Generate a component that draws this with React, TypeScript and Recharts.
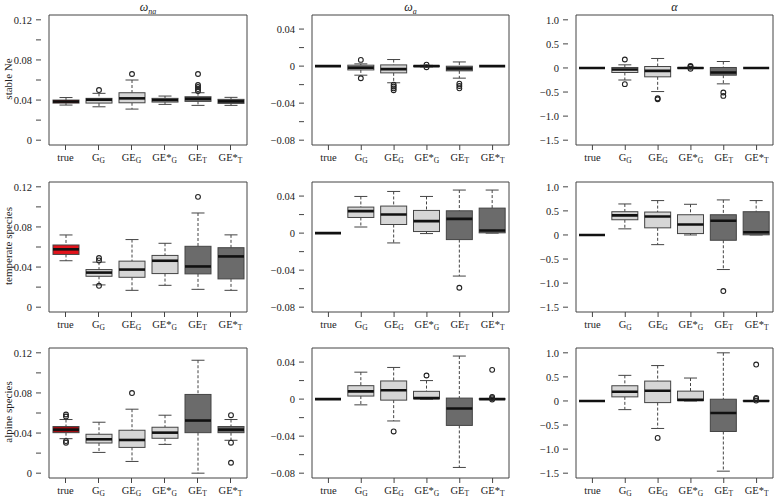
import React from 'react';
import { ComposedChart, Bar, XAxis, YAxis, ReferenceArea } from 'recharts';

const categories = ['true', 'G_G', 'GE_G', 'GE*_G', 'GE_T', 'GE*_T'];
const tickMain = ['true', 'G', 'GE', 'GE*', 'GE', 'GE*'];
const tickSub = ['', 'G', 'G', 'G', 'T', 'T'];

const rowTitles = ['stable Ne', 'temperate species', 'alpine species'];

// each group: [lower whisker, q1, median, q3, upper whisker]
const wnaStable = [
    [0.035, 0.037, 0.0385, 0.04, 0.0425],
    [0.0333, 0.037, 0.0403, 0.0417, 0.0467],
    [0.031, 0.0373, 0.0417, 0.0473, 0.06],
    [0.0357, 0.038, 0.04, 0.0417, 0.044],
    [0.0347, 0.0387, 0.0413, 0.0433, 0.0473],
    [0.0347, 0.0367, 0.0387, 0.0407, 0.0427]
];
const wnaStableOut = [[], [0.05], [0.066], [], [0.066, 0.055, 0.053, 0.051, 0.049], []];

const waStable = [
    [0, 0, 0, 0, 0],
    [-0.0098, -0.0041, -0.0016, 0.001, 0.0024],
    [-0.018, -0.0073, -0.0033, 0.0013, 0.0071],
    [-0.0008, -0.0003, 0, 0.0003, 0.0008],
    [-0.013, -0.0051, -0.0026, -0.0001, 0.0045],
    [0, 0, 0, 0, 0]
];
const waStableOut = [[], [0.0067, -0.0131], [-0.02, -0.022, -0.024, -0.026], [0.0015, -0.0012], [-0.019, -0.0215, -0.024], []];

const alStable = [
    [0, 0, 0, 0, 0],
    [-0.25, -0.094, -0.032, 0.01, 0.065],
    [-0.49, -0.184, -0.06, 0.03, 0.197],
    [-0.01, -0.004, 0, 0.004, 0.012],
    [-0.33, -0.15, -0.094, 0.01, 0.134],
    [0, 0, 0, 0, 0]
];
const alStableOut = [[], [0.176, -0.336], [-0.63, -0.65], [0.04, 0.025, -0.015], [-0.51, -0.58], []];

const wnaTemp = [
    [0.0463, 0.0526, 0.0577, 0.062, 0.072],
    [0.0222, 0.0308, 0.0345, 0.0375, 0.0449],
    [0.0168, 0.0298, 0.0375, 0.0459, 0.0674],
    [0.0218, 0.0335, 0.0463, 0.0516, 0.0637],
    [0.0178, 0.0332, 0.0406, 0.0607, 0.0939],
    [0.0168, 0.0282, 0.0506, 0.0593, 0.0721]
];
const wnaTempOut = [[], [0.049, 0.0466, 0.0213], [], [], [0.11], []];

const waTemp = [
    [0, 0, 0, 0, 0],
    [0.0066, 0.0169, 0.0237, 0.0281, 0.0396],
    [-0.0106, 0.0093, 0.0201, 0.0292, 0.045],
    [-0.0005, 0.0017, 0.0129, 0.0245, 0.0396],
    [-0.0464, -0.007, 0.0154, 0.0241, 0.0465],
    [0, 0.0003, 0.0028, 0.027, 0.0465]
];
const waTempOut = [[], [], [], [], [-0.059], []];

const alTemp = [
    [0, 0, 0, 0, 0],
    [0.127, 0.316, 0.406, 0.483, 0.644],
    [-0.201, 0.148, 0.385, 0.476, 0.714],
    [0, 0.029, 0.218, 0.42, 0.637],
    [-0.718, -0.11, 0.295, 0.42, 0.728],
    [0, 0.003, 0.057, 0.483, 0.714]
];
const alTempOut = [[], [], [], [], [-1.165], []];

const wnaAlp = [
    [0.0344, 0.0404, 0.0434, 0.0465, 0.0535],
    [0.0207, 0.0301, 0.0338, 0.0388, 0.0508],
    [0.0117, 0.0257, 0.0331, 0.0428, 0.0638],
    [0.0287, 0.0348, 0.0404, 0.0458, 0.0578],
    [0, 0.0404, 0.0525, 0.0785, 0.1126],
    [0.0328, 0.0404, 0.0434, 0.0465, 0.0535]
];
const wnaAlpOut = [[0.0585, 0.0565, 0.032, 0.0304], [], [0.0799], [], [], [0.0578, 0.0304, 0.0104]];

const waAlp = [
    [0, 0, 0, 0, 0],
    [-0.0062, 0.0033, 0.0084, 0.0145, 0.0291],
    [-0.0236, -0.0011, 0.0095, 0.0196, 0.0342],
    [0, 0.0004, 0.0011, 0.0084, 0.02],
    [-0.0738, -0.0284, -0.0102, 0.0011, 0.0465],
    [0, 0, 0, 0.0003, 0.0007]
];
const waAlpOut = [[], [], [-0.0349], [0.0255], [], [0.0316, 0.0022, 0.0011, -0.0004]];

const alAlp = [
    [0, 0, 0, 0, 0],
    [-0.18, 0.085, 0.19, 0.316, 0.532],
    [-0.571, -0.034, 0.211, 0.413, 0.735],
    [0, 0.008, 0.022, 0.204, 0.476],
    [-1.458, -0.634, -0.25, 0.036, 1.0],
    [0, 0, 0, 0.003, 0.006]
];
const alAlpOut = [[], [], [-0.767], [], [], [0.756, 0.064, 0.043, 0.008]];

// y axis per column (omega_na, omega_a, alpha)
const yDomains = [[-0.0048, 0.1248], [-0.0852, 0.0552], [-1.6, 1.1]];
const yTicks = [
    [0, 0.02, 0.04, 0.06, 0.08, 0.1, 0.12],
    [-0.08, -0.06, -0.04, -0.02, 0, 0.02, 0.04],
    [-1.5, -1, -0.5, 0, 0.5, 1]
];
const yTickText = [
    ['0', '', '0.04', '', '0.08', '', '0.12'],
    ['\u22120.08', '', '\u22120.04', '', '0', '', '0.04'],
    ['\u22121.5', '\u22121.0', '\u22120.5', '0', '0.5', '1.0']
];

const panels = [
    [wnaStable, wnaStableOut], [waStable, waStableOut], [alStable, alStableOut],
    [wnaTemp, wnaTempOut], [waTemp, waTempOut], [alTemp, alTempOut],
    [wnaAlp, wnaAlpOut], [waAlp, waAlpOut], [alAlp, alAlpOut]
];

const colLeft = [41, 304, 568];
const colWidth = [214, 213, 213];
const rowTop = [15, 182, 348];
const plotH = 130;
const axisW = 40;
const topPad = 4;
const xAxisH = 22;

const trueFill = ['#c0141c', '#e3131b', '#a30d12'];
const lightGrey = '#d6d6d6';
const darkGrey = '#6b6b6b';
const lineCol = '#444';
const font = "'Liberation Serif', 'Times New Roman', 'DejaVu Serif', serif";

const fillFor = (row: number, i: number) => (i === 0 ? trueFill[row] : i <= 3 ? lightGrey : darkGrey);

const BoxGlyph = (props: any) => {
    const { x, y, width, height, payload, index, dMin, dMax, row } = props;
    if (!payload) return null;
    const py = (v: number) => y + ((dMax - v) / (dMax - dMin)) * height;
    const [lo, q1, med, q3, hi] = payload.stats;
    const cx = x + width / 2;
    const cap = width / 4;
    return (
        <g>
            <line x1={cx} x2={cx} y1={py(hi)} y2={py(q3)} stroke={lineCol} strokeDasharray="3 2" />
            <line x1={cx} x2={cx} y1={py(q1)} y2={py(lo)} stroke={lineCol} strokeDasharray="3 2" />
            <line x1={cx - cap} x2={cx + cap} y1={py(hi)} y2={py(hi)} stroke={lineCol} />
            <line x1={cx - cap} x2={cx + cap} y1={py(lo)} y2={py(lo)} stroke={lineCol} />
            <rect x={x} y={py(q3)} width={width} height={py(q1) - py(q3)} fill={fillFor(row, index)} stroke={lineCol} />
            <line x1={x} x2={x + width} y1={py(med)} y2={py(med)} stroke="#111" strokeWidth={2.6} />
            {payload.out.map((v: number, k: number) => (
                <circle key={k} cx={cx} cy={py(v)} r={2.4} fill="none" stroke="#222" strokeWidth={1.1} />
            ))}
        </g>
    );
};

const CatTick = (props: any) => {
    const { x, y, payload } = props;
    const i = categories.indexOf(payload.value);
    return (
        <text x={x} y={y} dy={8.5} textAnchor="middle" fontFamily={font} fontSize={10.5} fill="#222">
            {tickMain[i]}
            {tickSub[i] ? <tspan dy={2.5} fontSize={7.5}>{tickSub[i]}</tspan> : null}
        </text>
    );
};

const Panel = ({ row, col }: { row: number; col: number }) => {
    const [stats, outs] = panels[row * 3 + col];
    const [dMin, dMax] = yDomains[col];
    const data = categories.map((name, i) => ({
        name,
        stats: stats[i],
        out: outs[i],
        span: [dMin, dMax]
    }));
    const w = axisW + colWidth[col] + 1;
    const h = topPad + plotH + xAxisH;
    return (
        <div style={{ position: 'absolute', left: colLeft[col] - axisW, top: rowTop[row] - topPad }}>
            <ComposedChart width={w} height={h} data={data} margin={{ top: topPad, right: 1, bottom: 0, left: 0 }}>
                <XAxis
                    dataKey="name"
                    type="category"
                    height={xAxisH}
                    padding={{ left: 8, right: 8 }}
                    axisLine={false}
                    tickSize={5}
                    tickLine={{ stroke: lineCol }}
                    interval={0}
                    tick={<CatTick />}
                />
                <YAxis
                    type="number"
                    width={axisW}
                    domain={[dMin, dMax]}
                    allowDataOverflow
                    ticks={yTicks[col]}
                    interval={0}
                    tickSize={5}
                    tickMargin={4}
                    axisLine={false}
                    tickLine={{ stroke: lineCol }}
                    tickFormatter={(v: number) => yTickText[col][yTicks[col].indexOf(v)] ?? ''}
                    tick={{ fontFamily: font, fontSize: 10.5, fill: '#222' }}
                />
                <Bar
                    dataKey="span"
                    barSize={26}
                    isAnimationActive={false}
                    shape={(p: any) => <BoxGlyph {...p} dMin={dMin} dMax={dMax} row={row} />}
                />
                <ReferenceArea y1={dMin} y2={dMax} fill="none" stroke={lineCol} ifOverflow="visible" />
            </ComposedChart>
        </div>
    );
};

const colTitle = (col: number) => {
    if (col === 2) return <span style={{ fontStyle: 'italic' }}>α</span>;
    return (
        <span style={{ fontStyle: 'italic' }}>
            ω<span style={{ fontSize: 8, verticalAlign: -3 }}>{col === 0 ? 'na' : 'a'}</span>
        </span>
    );
};

export default function App() {
    return (
        <div style={{ position: 'absolute', left: 0, top: 0, width: 782, height: 498, overflow: 'hidden', background: '#fff', fontFamily: font, color: '#222' }}>
            {[0, 1, 2].map((c) => (
                <div
                    key={'t' + c}
                    style={{ position: 'absolute', left: colLeft[c], width: colWidth[c], top: 0, textAlign: 'center', fontSize: 12, lineHeight: '14px' }}
                >
                    {colTitle(c)}
                </div>
            ))}
            {rowTitles.map((t, r) => (
                <div
                    key={'r' + r}
                    style={{
                        position: 'absolute',
                        left: 8 - 60,
                        top: rowTop[r] + plotH / 2 - 8,
                        width: 120,
                        textAlign: 'center',
                        fontSize: 11,
                        lineHeight: '14px',
                        transform: 'rotate(-90deg)'
                    }}
                >
                    {t}
                </div>
            ))}
            {[0, 1, 2].map((r) => [0, 1, 2].map((c) => <Panel key={r + '-' + c} row={r} col={c} />))}
        </div>
    );
}
